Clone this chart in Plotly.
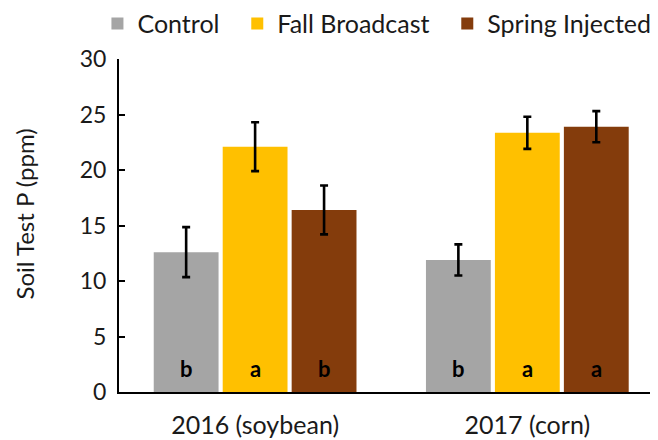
import plotly.graph_objects as go

years = ["2016 (soybean)", "2017 (corn)"]
treatments = ["Control", "Fall Broadcast", "Spring Injected"]
colors = ["#A5A5A5", "#FFC000", "#843C0C"]

control = [12.6, 11.9]
fall_broadcast = [22.1, 23.35]
spring_injected = [16.4, 23.9]

control_err = [2.25, 1.4]
fall_err = [2.2, 1.45]
spring_err = [2.2, 1.4]

control_letters = ["b", "b"]
fall_letters = ["a", "a"]
spring_letters = ["b", "a"]

values = [control, fall_broadcast, spring_injected]
errors = [control_err, fall_err, spring_err]
letters = [control_letters, fall_letters, spring_letters]
pads = ["\u00a0\u00a0", "\u00a0\u00a0", ""]

FONT = "Lato"
BARGAP = 0.24

fig = go.Figure()
for name, vals, err, col, pad in zip(treatments, values, errors, colors, pads):
    fig.add_trace(go.Bar(
        x=years, y=vals, name=name + pad,
        marker=dict(color=col, line=dict(width=0)),
        error_y=dict(type="data", array=err, color="black", thickness=2.6, width=4),
    ))

# significance letters at the foot of each bar
slot = (1 - BARGAP) / len(treatments)
for j, lets in enumerate(letters):
    for i, lt in enumerate(lets):
        fig.add_annotation(x=i + (j - 1) * slot, y=0.75, text=f"<b>{lt}</b>",
                           showarrow=False, yanchor="bottom",
                           font=dict(family=FONT, size=22, color="black"))

# y axis title
fig.add_annotation(text="Soil Test P (ppm)", textangle=-90, showarrow=False,
                   xref="paper", yref="paper", x=-0.175, y=0.535,
                   xanchor="center", yanchor="middle",
                   font=dict(family=FONT, size=24, color="#1a1a1a"))

fig.update_layout(
    width=650, height=432,
    margin=dict(l=111, r=0, t=51, b=48, autoexpand=False),
    paper_bgcolor="white", plot_bgcolor="white",
    barmode="group", bargap=BARGAP, bargroupgap=0.06,
    font=dict(family=FONT, size=22, color="#1a1a1a"),
    showlegend=True,
    legend=dict(orientation="h", x=-0.04, xanchor="left", y=1.175, yanchor="top",
                font=dict(size=25), tracegroupgap=0, traceorder="normal"),
    xaxis=dict(range=[-0.5, 1.48], showline=True, linecolor="black", linewidth=2,
               ticks="", showgrid=False, tickfont=dict(size=25), automargin=False,
               ticklabelstandoff=10),
    yaxis=dict(range=[0, 30], dtick=5, showline=True, linecolor="black", linewidth=2,
               ticks="inside", ticklen=6, tickwidth=2, tickcolor="black",
               showgrid=False, zeroline=False, tickfont=dict(size=23), automargin=False,
               ticklabelstandoff=6),
)

fig.write_html("out.html")
